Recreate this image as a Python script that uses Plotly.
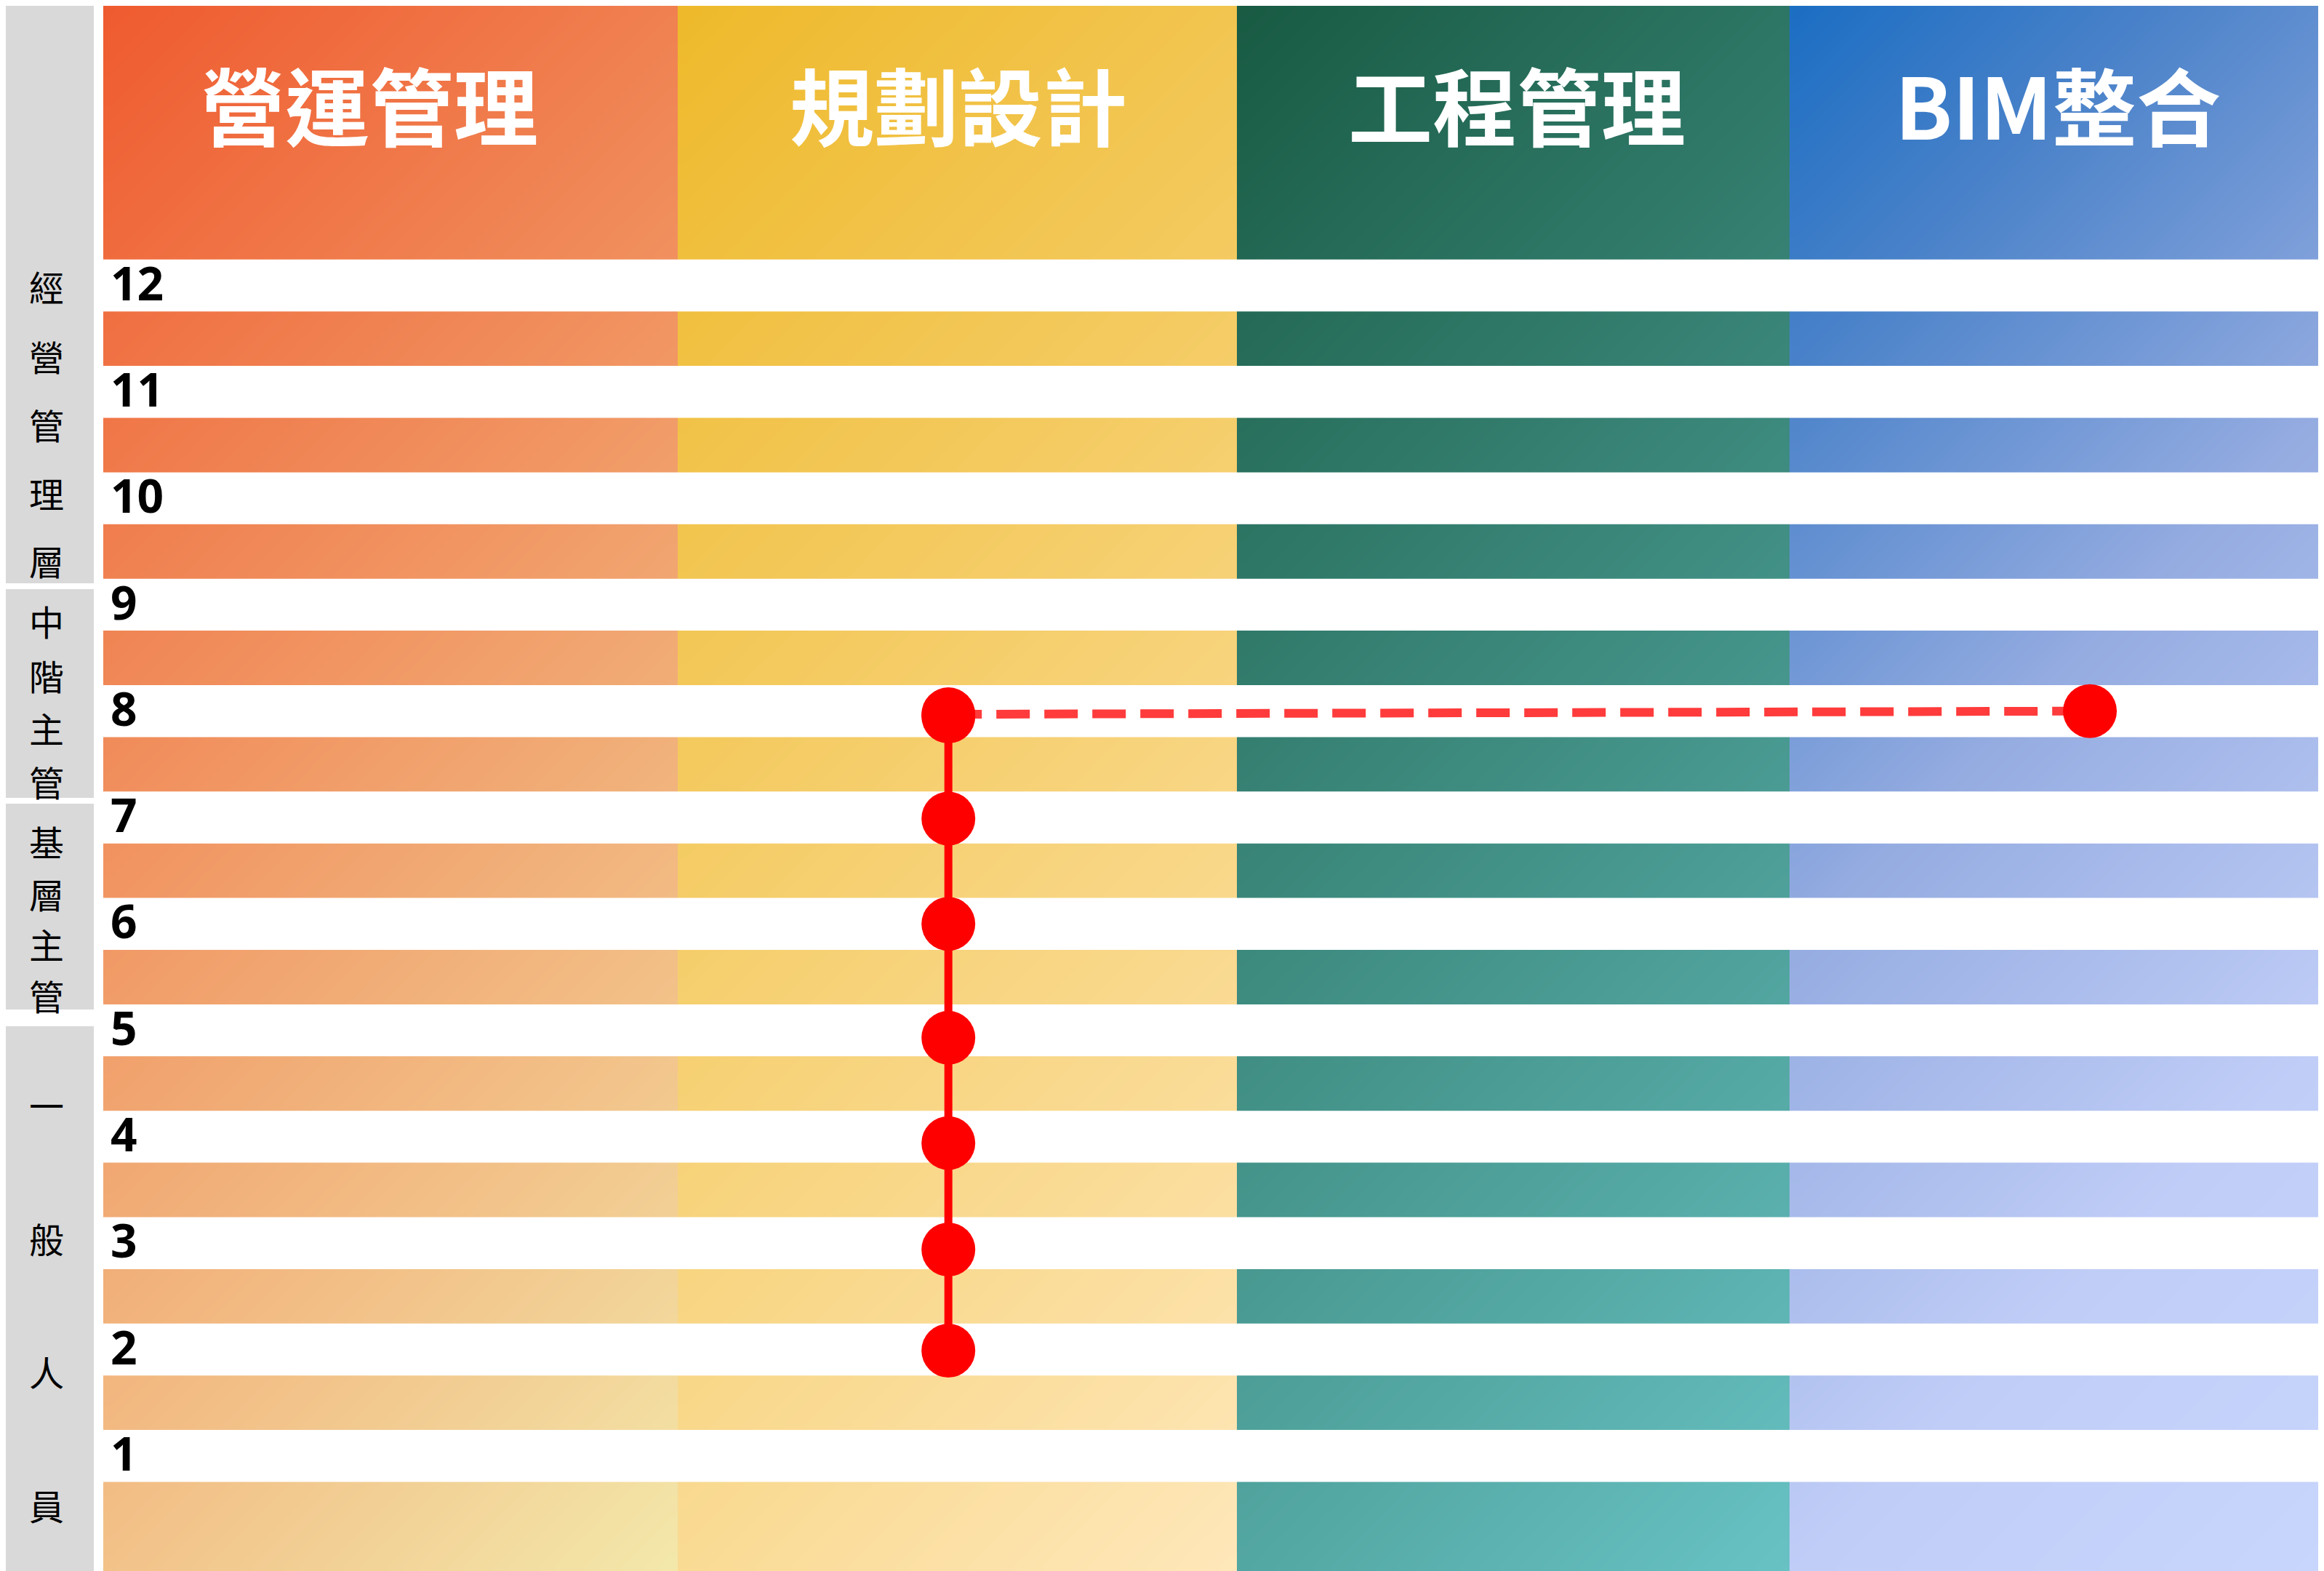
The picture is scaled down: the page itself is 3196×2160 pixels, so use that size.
import numpy as np
import plotly.graph_objects as go

# ---------------- data ----------------
departments = ["營運管理", "規劃設計", "工程管理", "BIM整合"]
levels = [1, 2, 3, 4, 5, 6, 7, 8, 9, 10, 11, 12]
level_labels = [str(v) for v in levels]
tier_names = ["經營管理層", "中階主管", "基層主管", "一般人員"]

path_dept = ["規劃設計", "規劃設計", "規劃設計", "規劃設計", "規劃設計", "規劃設計", "規劃設計"]
path_level = [1.99, 2.94, 3.94, 4.93, 6.0, 6.99, 7.95]
transfer_dept = ["規劃設計", "BIM整合"]
transfer_level = [7.97, 8.0]

# ---------------- layout constants (screen pixels) ----------------
W, H = 3196, 2160
OFF = 8  # page body margin
col_edges = [142, 932, 1701, 2461, 3196]
col_scales = [
    [[0, "#EF5A2F"], [1, "#F3E8AA"]],
    [[0, "#EEB92A"], [1, "#FEE7BA"]],
    [[0, "#185A42"], [1, "#68C2C4"]],
    [[0, "#1A6DC3"], [0.18, "#4A82C9"], [0.45, "#95ACE1"], [0.75, "#C0CDF7"], [1, "#C8D5FC"]],
]
title_x = [508, 1318, 2086, 2830]
TITLE_PX = 141
dot_frac = {"規劃設計": 0.484, "BIM整合": 0.562}

PX_PER_LEVEL = 146.3
LEVEL12_PX = 392.5
Y_TOP = 12 + (LEVEL12_PX - OFF) / PX_PER_LEVEL
Y_BOT = 12 - (H - LEVEL12_PX) / PX_PER_LEVEL
STRIPE_HALF = 0.244

grey_segments = [(0, 802), (810, 1097), (1105, 1388), (1411, 2160)]
tier_char_px = [
    [393, 489, 583, 677, 770],
    [853, 928, 1000, 1074],
    [1156, 1228, 1297, 1368],
    [1518, 1702, 1885, 2069],
]


def dept_x(name):
    i = departments.index(name)
    x0, x1 = col_edges[i], col_edges[i + 1]
    return x0 + dot_frac.get(name, 0.5) * (x1 - x0)


def lvl_to_px(y):
    return LEVEL12_PX + (12 - y) * PX_PER_LEVEL


def py(p):
    return 1 - (p - OFF) / (H - OFF)


fig = go.Figure()

# gradient columns
NX, NY = 40, 140
for i, name in enumerate(departments):
    x0, x1 = col_edges[i], col_edges[i + 1]
    xe = np.linspace(x0, x1, NX + 1)
    ye = np.linspace(Y_BOT, Y_TOP, NY + 1)
    xc = (xe[:-1] + xe[1:]) / 2
    yc = (ye[:-1] + ye[1:]) / 2
    XX, YY = np.meshgrid(xc, yc)
    Z = ((XX - x0) + lvl_to_px(YY)) / ((x1 - x0) + H)
    fig.add_trace(go.Heatmap(
        x=xe, y=ye, z=Z, zmin=0, zmax=1, zsmooth="best",
        colorscale=col_scales[i], showscale=False, hoverinfo="skip",
    ))

# white stripes at every level
sx, sy = [], []
for lv in levels:
    sx += [col_edges[0], col_edges[-1], col_edges[-1], col_edges[0], col_edges[0], None]
    sy += [lv - STRIPE_HALF, lv - STRIPE_HALF, lv + STRIPE_HALF, lv + STRIPE_HALF, lv - STRIPE_HALF, None]
fig.add_trace(go.Scatter(x=sx, y=sy, mode="lines", fill="toself", fillcolor="#FFFFFF",
                         line=dict(width=0, color="#FFFFFF"), hoverinfo="skip", showlegend=False))

# transfer (dashed)
fig.add_trace(go.Scatter(
    x=[dept_x(d) for d in transfer_dept], y=transfer_level, mode="lines+markers",
    line=dict(color="#FF3B3B", width=12, dash="46px,20px"),
    marker=dict(size=74, color="#FF0000"), showlegend=False, hoverinfo="skip"))

# career path
fig.add_trace(go.Scatter(
    x=[dept_x(d) for d in path_dept], y=path_level, mode="lines+markers",
    line=dict(color="#FF0000", width=11),
    marker=dict(size=74, color="#FF0000"), showlegend=False, hoverinfo="skip"))

annotations = []
for i, name in enumerate(departments):
    annotations.append(dict(
        x=title_x[i], y=py(TITLE_PX), xref="x", yref="paper", text=name, showarrow=False,
        xanchor="center", yanchor="middle",
        font=dict(family="Noto Sans CJK TC", size=116, color="white", weight="bold")))

for lv, lab in zip(levels, level_labels):
    annotations.append(dict(
        x=150, y=lv + 0.03, xref="x", yref="y", text=lab, showarrow=False,
        xanchor="left", yanchor="middle",
        font=dict(family="Noto Sans", size=64, color="black", weight="bold")))

shapes = []
for (a, b) in grey_segments:
    shapes.append(dict(type="rect", xref="x", yref="paper", x0=7, x1=129,
                       y0=py(b), y1=py(a), fillcolor="#D9D9D9",
                       line=dict(width=0), layer="below"))

for name, pxs in zip(tier_names, tier_char_px):
    for ch, p in zip(name, pxs):
        annotations.append(dict(
            x=64, y=py(p), xref="x", yref="paper", text=ch, showarrow=False,
            xanchor="center", yanchor="middle",
            font=dict(family="Noto Sans CJK TC", size=48, color="black")))

fig.update_layout(
    width=W - OFF, height=H - OFF, margin=dict(l=0, r=0, t=0, b=0),
    paper_bgcolor="white", plot_bgcolor="white",
    xaxis=dict(range=[OFF, W], visible=False, fixedrange=True),
    yaxis=dict(range=[Y_BOT, Y_TOP], visible=False, fixedrange=True),
    annotations=annotations, shapes=shapes, showlegend=False,
)

fig.write_html("out.html")
